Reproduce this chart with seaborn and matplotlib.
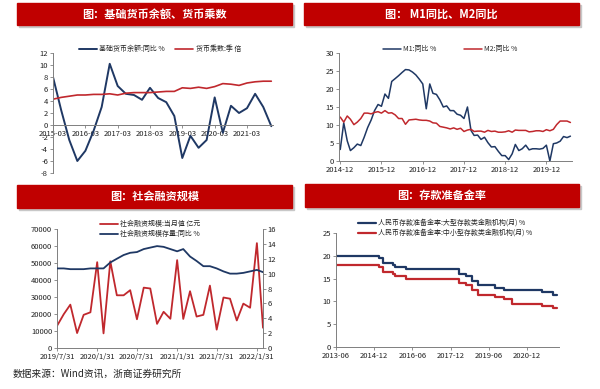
import numpy as np
import pandas as pd
import matplotlib
matplotlib.use('Agg')
import matplotlib.pyplot as plt
import matplotlib.dates as mdates
from matplotlib.patches import Rectangle
import seaborn as sns

sns.set_theme(style='ticks')
plt.rcParams['font.family'] = ['Noto Sans CJK SC', 'DejaVu Sans']
plt.rcParams['axes.unicode_minus'] = False

W, H = 600, 389
RED = '#C00000'
NAVY = '#1F3864'
LRED = '#C0282D'

# ---- 图1：基础货币余额、货币乘数（季度）
q_dates = pd.date_range('2015-03-01', '2021-12-01', freq='QS-MAR')
base_yoy = [8.0, 2.5, -2.5, -6.0, -4.3, -1.0, 3.0, 10.2,
            6.5, 5.2, 5.0, 4.2, 6.2, 4.5, 3.8, 1.5,
            -5.5, -1.8, -3.8, -2.5, 4.6, -1.3, 3.2, 2.0,
            2.8, 5.2, 3.0, -0.2]
multiplier = [4.3, 4.6, 4.8, 5.0, 5.0, 5.1, 5.1, 5.2,
              5.0, 5.3, 5.4, 5.4, 5.4, 5.5, 5.6, 5.6,
              6.2, 6.1, 6.3, 6.1, 6.4, 6.9, 6.8, 6.6,
              7.0, 7.2, 7.3, 7.3]
p1_ticks = ['2015-03', '2016-03', '2017-03', '2018-03', '2019-03', '2020-03', '2021-03']

# ---- 图2：M1同比、M2同比（月度）
m_dates = pd.date_range('2014-12-01', periods=68, freq='MS')
m1_yoy = [3.2, 10.6, 5.6, 2.9, 3.7, 4.7, 4.3, 6.6, 9.3, 11.4, 14.0, 15.7, 15.2,
          18.6, 17.4, 22.1, 22.9, 23.7, 24.6, 25.4, 25.3, 24.7, 23.9, 22.7, 21.4,
          14.5, 21.4, 18.8, 18.5, 17.0, 15.0, 15.3, 14.0, 14.0, 13.0, 12.7, 11.8,
          15.0, 8.5, 7.1, 7.2, 6.0, 6.6, 5.1, 3.9, 4.0, 2.7, 1.5, 1.5,
          0.4, 2.0, 4.6, 2.9, 3.4, 4.4, 3.1, 3.4, 3.4, 3.3, 3.5, 4.4,
          0.0, 4.8, 5.0, 5.5, 6.8, 6.5, 6.9]
m2_yoy = [12.2, 10.8, 12.5, 11.6, 10.1, 10.8, 11.8, 13.3, 13.3, 13.1, 13.5, 13.7, 13.3,
          14.0, 13.3, 13.4, 12.8, 11.8, 11.8, 10.2, 11.4, 11.5, 11.6, 11.4, 11.3,
          11.3, 11.1, 10.6, 10.5, 9.6, 9.4, 9.2, 8.9, 9.2, 8.8, 9.1, 8.2,
          8.6, 8.8, 8.2, 8.3, 8.3, 8.0, 8.5, 8.2, 8.3, 8.0, 8.0, 8.1,
          8.4, 8.0, 8.6, 8.5, 8.5, 8.5, 8.1, 8.2, 8.4, 8.4, 8.2, 8.7,
          8.4, 8.8, 10.1, 11.1, 11.1, 11.1, 10.7]
p2_ticks = ['2014-12', '2015-12', '2016-12', '2017-12', '2018-12', '2019-12']

# ---- 图3：社会融资规模（月度）
s_dates = pd.date_range('2019-07-31', periods=32, freq='ME')
tsf_flow = [13000, 19900, 25500, 8800, 19500, 21000, 50500, 8600,
            51000, 31000, 31000, 34000, 16900, 35500, 35000, 14200,
            21300, 17200, 51700, 17100, 33400, 18500, 19500, 36700,
            10800, 29700, 29000, 16200, 26100, 23700, 61700, 11900]
tsf_stock_yoy = [10.7, 10.7, 10.6, 10.6, 10.6, 10.7, 10.7, 10.7,
                 11.5, 12.0, 12.5, 12.8, 12.9, 13.3, 13.5, 13.7,
                 13.6, 13.3, 13.0, 13.3, 12.3, 11.7, 11.0, 11.0,
                 10.7, 10.3, 10.0, 10.0, 10.1, 10.3, 10.5, 10.2]
p3_ticks = ['2019-07-31', '2020-01-31', '2020-07-31', '2021-01-31', '2021-07-31', '2022-01-31']

# ---- 图4：存款准备金率（调整时点）
large_dates = ['2013-06', '2015-02', '2015-04', '2015-09', '2015-10', '2016-03', '2018-04',
               '2018-07', '2018-10', '2019-01', '2019-09', '2020-01', '2021-07', '2021-12', '2022-02']
large_rrr = [20, 19.5, 18.5, 18, 17.5, 17, 16, 15.5, 14.5, 13.5, 13, 12.5, 12, 11.5, 11.5]
small_dates = ['2013-06', '2015-02', '2015-04', '2015-09', '2015-10', '2016-03', '2018-04',
               '2018-07', '2018-10', '2019-01', '2019-09', '2020-01', '2020-05', '2021-07',
               '2021-12', '2022-02']
small_rrr = [18, 17.5, 16.5, 16, 15.5, 15, 14, 13.5, 12.5, 11.5, 11, 10.5, 9.5, 9, 8.5, 8.5]
p4_ticks = ['2013-06', '2014-12', '2016-06', '2017-12', '2019-06', '2020-12']

fig = plt.figure(figsize=(6, 3.89), dpi=100)


def box(x0, y0, x1, y1):
    return [x0 / W, 1 - y1 / H, (x1 - x0) / W, (y1 - y0) / H]


def banner(x0, y0, x1, y1, text):
    fig.patches.append(Rectangle(((x0 + 2) / W, 1 - (y1 + 2) / H), (x1 - x0) / W, (y1 - y0) / H,
                                 transform=fig.transFigure, color='#c8c8c8', zorder=0))
    fig.patches.append(Rectangle((x0 / W, 1 - y1 / H), (x1 - x0) / W, (y1 - y0) / H,
                                 transform=fig.transFigure, color=RED, zorder=1))
    fig.text((x0 + x1) / 2 / W, 1 - (y0 + y1) / 2 / H, text, color='white',
             fontsize=8, fontweight='bold', ha='center', va='center', zorder=2)


def style(ax, right=False):
    for s in ['top', 'right']:
        ax.spines[s].set_visible(False)
    for s in ['left', 'bottom'] + (['right'] if right else []):
        ax.spines[s].set_visible(True)
        ax.spines[s].set_color('#7f7f7f')
        ax.spines[s].set_linewidth(0.7)
    ax.tick_params(labelsize=5.5, length=2, width=0.6, color='#7f7f7f', pad=1.5, labelcolor='#222222')
    ax.set_xlabel('')
    ax.set_ylabel('')


def legend(ax, x, y, ncol, **kw):
    ax.legend(loc='center', bbox_to_anchor=(x / W, 1 - y / H), bbox_transform=fig.transFigure,
              ncol=ncol, frameon=False, fontsize=5, handlelength=2.6, handletextpad=0.3,
              labelspacing=0.3, borderpad=0, **kw)


banner(17, 3, 292, 25, '图：基础货币余额、货币乘数')
banner(304, 3, 579, 25, '图： M1同比、M2同比')
banner(17, 185, 292, 208, '图：社会融资规模')
banner(305, 184, 579, 207, '图：存款准备金率')

# 图1
ax1 = fig.add_axes(box(53, 53, 273, 173))
df1 = pd.DataFrame({'date': q_dates, 'base': base_yoy, 'mult': multiplier})
sns.lineplot(data=df1, x='date', y='base', ax=ax1, color=NAVY, lw=1.4, label='基础货币余额:同比 %')
sns.lineplot(data=df1, x='date', y='mult', ax=ax1, color=LRED, lw=1.2, label='货币乘数:季 倍')
ax1.set_ylim(-8, 12)
ax1.set_yticks(range(-8, 13, 2))
ax1.set_xlim(pd.Timestamp('2015-03-01'), pd.Timestamp('2021-12-20'))
ax1.set_xticks(pd.to_datetime(p1_ticks))
ax1.set_xticklabels(p1_ticks)
style(ax1)
ax1.spines['bottom'].set_position(('data', 0))
legend(ax1, 160, 49, 2, columnspacing=1.5)

# 图2
ax2 = fig.add_axes(box(339, 53, 572, 161))
df2 = pd.DataFrame({'date': m_dates, 'M1': m1_yoy, 'M2': m2_yoy})
sns.lineplot(data=df2, x='date', y='M1', ax=ax2, color=NAVY, lw=1.1, label='M1:同比 %')
sns.lineplot(data=df2, x='date', y='M2', ax=ax2, color=LRED, lw=1.1, label='M2:同比 %')
ax2.set_ylim(0, 30)
ax2.set_yticks(range(0, 31, 5))
ax2.set_xlim(pd.Timestamp('2014-11-20'), pd.Timestamp('2020-07-15'))
ax2.set_xticks(pd.to_datetime(p2_ticks))
ax2.set_xticklabels(p2_ticks)
style(ax2)
legend(ax2, 450, 49, 2, columnspacing=4)

# 图3
ax3 = fig.add_axes(box(57, 229, 263, 348))
ax3r = ax3.twinx()
df3 = pd.DataFrame({'date': s_dates, 'flow': tsf_flow, 'stock': tsf_stock_yoy})
sns.lineplot(data=df3, x='date', y='flow', ax=ax3, color=LRED, lw=1.3, label='社会融资规模:当月值 亿元')
sns.lineplot(data=df3, x='date', y='stock', ax=ax3r, color=NAVY, lw=1.3, label='社会融资规模存量:同比 %')
ax3.set_ylim(0, 70000)
ax3.set_yticks(range(0, 70001, 10000))
ax3r.set_ylim(0, 16)
ax3r.set_yticks(range(0, 17, 2))
ax3.set_xlim(pd.Timestamp('2019-07-31'), pd.Timestamp('2022-02-28'))
p3 = pd.to_datetime(p3_ticks)
ax3.set_xticks(p3)
ax3.set_xticklabels([f'{d.year}/{d.month}/{d.day}' for d in p3])
style(ax3, right=True)
style(ax3r, right=True)
ax3r.spines['right'].set_visible(True)
ax3r.spines['left'].set_visible(False)
ax3r.spines['bottom'].set_visible(False)
h1, l1 = ax3.get_legend_handles_labels()
h2, l2 = ax3r.get_legend_handles_labels()
ax3r.get_legend().remove()
ax3.legend(h1 + h2, l1 + l2, loc='center', bbox_to_anchor=(150 / W, 1 - 229 / H),
           bbox_transform=fig.transFigure, ncol=1, frameon=False, fontsize=5,
           handlelength=2.6, handletextpad=0.3, labelspacing=0.3, borderpad=0)

# 图4
ax4 = fig.add_axes(box(336, 233, 559, 347))
df4a = pd.DataFrame({'date': pd.to_datetime(large_dates), 'rrr': large_rrr})
df4b = pd.DataFrame({'date': pd.to_datetime(small_dates), 'rrr': small_rrr})
sns.lineplot(data=df4a, x='date', y='rrr', ax=ax4, color=NAVY, lw=1.6, drawstyle='steps-post',
             label='人民币存款准备金率:大型存款类金融机构(月) %')
sns.lineplot(data=df4b, x='date', y='rrr', ax=ax4, color=LRED, lw=1.6, drawstyle='steps-post',
             label='人民币存款准备金率:中小型存款类金融机构(月) %')
ax4.set_ylim(0, 25)
ax4.set_yticks(range(0, 26, 5))
ax4.set_xlim(pd.Timestamp('2013-06-01'), pd.Timestamp('2022-03-01'))
ax4.set_xticks(pd.to_datetime(p4_ticks))
ax4.set_xticklabels(p4_ticks)
style(ax4)
legend(ax4, 445, 228, 1)

fig.text(13 / W, 1 - 374 / H, '数据来源：Wind资讯，浙商证券研究所', fontsize=7, va='center', ha='left', color='#222222')

fig.savefig('out.png', dpi=100)
